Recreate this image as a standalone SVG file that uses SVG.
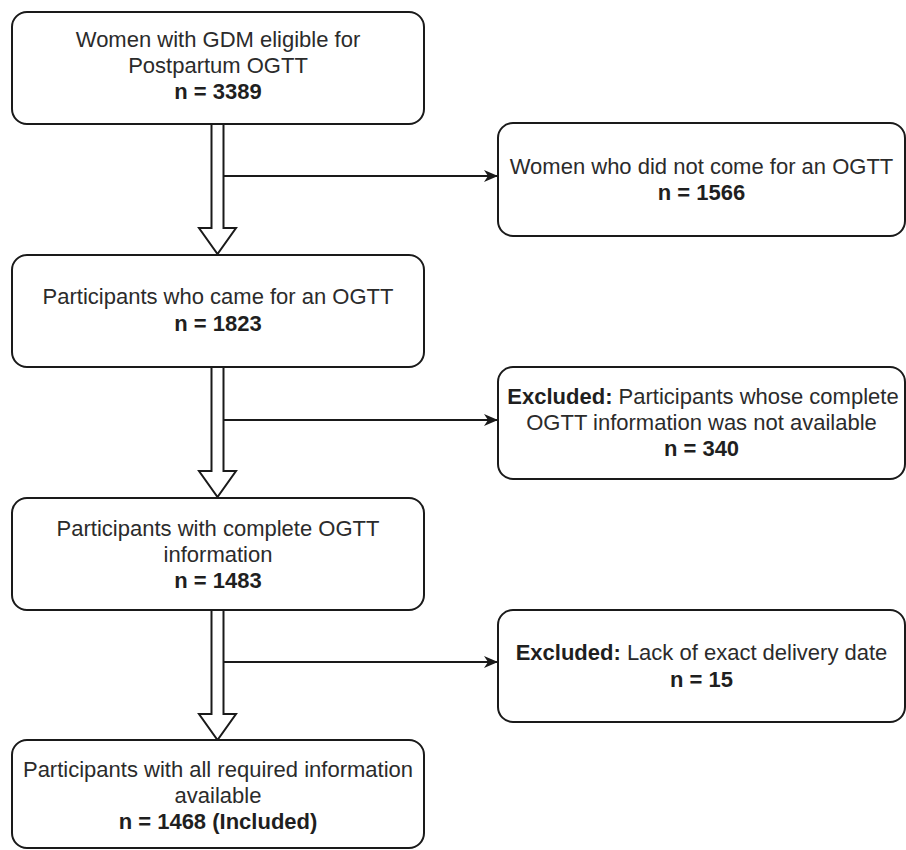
<svg xmlns="http://www.w3.org/2000/svg" width="906" height="850" viewBox="0 0 906 850">
<defs>
<style>
.box{fill:#fff;stroke:#1a1a1a;stroke-width:2}
.t{font-family:"Liberation Sans",Arial,Helvetica,sans-serif;font-size:22px;fill:#2b2b2b;text-anchor:middle}
.b{font-weight:bold;fill:#1f1f1f}
.blk{fill:#fff;stroke:#1a1a1a;stroke-width:2;stroke-linejoin:miter}
.ln{fill:none;stroke:#1a1a1a;stroke-width:2}
</style>
<marker id="ah" markerWidth="14" markerHeight="12" refX="13" refY="6" orient="auto" markerUnits="userSpaceOnUse">
<path d="M0,0 L14,6 L0,12 L4,6 Z" fill="#1a1a1a"/>
</marker>
</defs>
<rect width="906" height="850" fill="#fff"/>
<g id="connectors">
<path class="blk" d="M211.5,124 V228 H199 L217.5,254 L236,228 H223.5 V124"/>
<path class="blk" d="M211.5,367 V471 H199 L217.5,497 L236,471 H223.5 V367"/>
<path class="blk" d="M211.5,610 V714 H199 L217.5,740 L236,714 H223.5 V610"/>
<line class="ln" x1="224" y1="176" x2="497" y2="176" marker-end="url(#ah)"/>
<line class="ln" x1="224" y1="420" x2="497" y2="420" marker-end="url(#ah)"/>
<line class="ln" x1="224" y1="662" x2="497" y2="662" marker-end="url(#ah)"/>
</g>
<g id="n1">
<rect class="box" x="12" y="12" width="412" height="112" rx="15"/>
<text class="t" x="218" y="47">Women with GDM eligible for</text>
<text class="t" x="218" y="73">Postpartum OGTT</text>
<text class="t b" x="218" y="99">n = 3389</text>
</g>
<g id="n2">
<rect class="box" x="12" y="255" width="412" height="112" rx="15"/>
<text class="t" x="218" y="304">Participants who came for an OGTT</text>
<text class="t b" x="218" y="331">n = 1823</text>
</g>
<g id="n3">
<rect class="box" x="12" y="498" width="412" height="112" rx="15"/>
<text class="t" x="218" y="536">Participants with complete OGTT</text>
<text class="t" x="218" y="562">information</text>
<text class="t b" x="218" y="588">n = 1483</text>
</g>
<g id="n4">
<rect class="box" x="12" y="740" width="412" height="108" rx="15"/>
<text class="t" x="218" y="777">Participants with all required information</text>
<text class="t" x="218" y="803">available</text>
<text class="t b" x="218" y="829">n = 1468 (Included)</text>
</g>
<g id="r1">
<rect class="box" x="498" y="123" width="407" height="113" rx="15"/>
<text class="t" x="701.5" y="174">Women who did not come for an OGTT</text>
<text class="t b" x="701.5" y="200">n = 1566</text>
</g>
<g id="r2">
<rect class="box" x="498" y="367" width="407" height="112" rx="15"/>
<text class="t" x="703" y="404"><tspan class="b">Excluded:</tspan> Participants whose complete</text>
<text class="t" x="701.5" y="430">OGTT information was not available</text>
<text class="t b" x="701.5" y="456">n = 340</text>
</g>
<g id="r3">
<rect class="box" x="498" y="610" width="407" height="112" rx="15"/>
<text class="t" x="701.5" y="660"><tspan class="b">Excluded:</tspan> Lack of exact delivery date</text>
<text class="t b" x="701.5" y="687">n = 15</text>
</g>
</svg>
